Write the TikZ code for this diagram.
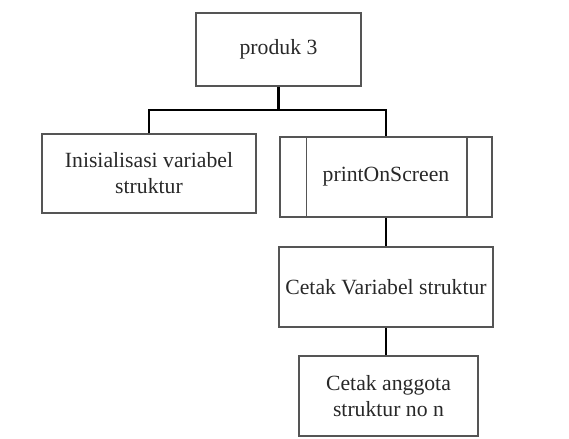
\documentclass[tikz,border=0pt]{standalone}
\usepackage{fontspec}
\setmainfont{Liberation Serif}
\usepackage{xcolor}
\usepackage{tikz}
\usetikzlibrary{arrows.meta,positioning,calc}
\definecolor{boxgray}{RGB}{85,85,85}
\definecolor{textgray}{RGB}{40,40,40}
\tikzset{
  % every node text
  every node/.append style={font=\fontsize{10.85}{13}\selectfont, text=textgray},
  % basic box
  box/.style={
    draw=boxgray,
    line width=0.75pt,
    align=center,
    inner sep=0pt
  },
  % subroutine box (two side bars)
  subbox/.style={box},
  % connector lines
  conn/.style={line width=1.1pt, black},
}
\begin{document}
\begin{tikzpicture}[x=0.5pt,y=-0.5pt]
        \useasboundingbox (0,0) rectangle (569,439);

        % Root
        \node[box, minimum width=82.5pt, minimum height=36.5pt] (produk) at (278.5,49.5) {produk 3};

        % Children
        \node[box, minimum width=107pt, minimum height=39.5pt] (init) at (149,173.5) {Inisialisasi variabel\\struktur};
        \node[subbox, minimum width=106pt, minimum height=40pt] (print) at (386,177) {printOnScreen};
        \draw[boxgray, line width=0.75pt] ($(print.north west)+(27,0)$) -- ($(print.south west)+(27,0)$);
        \draw[boxgray, line width=0.75pt] ($(print.north east)+(-26,0)$) -- ($(print.south east)+(-26,0)$);

        % Lower levels
        \node[box, minimum width=107pt, minimum height=40pt] (cetakvar) at (386,287) {Cetak Variabel struktur};
        \node[box, minimum width=89.5pt, minimum height=40pt] (anggota) at (388.5,396) {Cetak anggota\\struktur no n};

        % Connectors
        \coordinate (split) at (278.5,110);
        \draw[conn] (produk.south) -- (split);
        \draw[conn] (init.north) |- (split) -| (print.north);
        \draw[conn] (print.south) -- (cetakvar.north);
        \draw[conn] (cetakvar.south) -- (cetakvar.south |- anggota.north);
    \end{tikzpicture}
\end{document}
